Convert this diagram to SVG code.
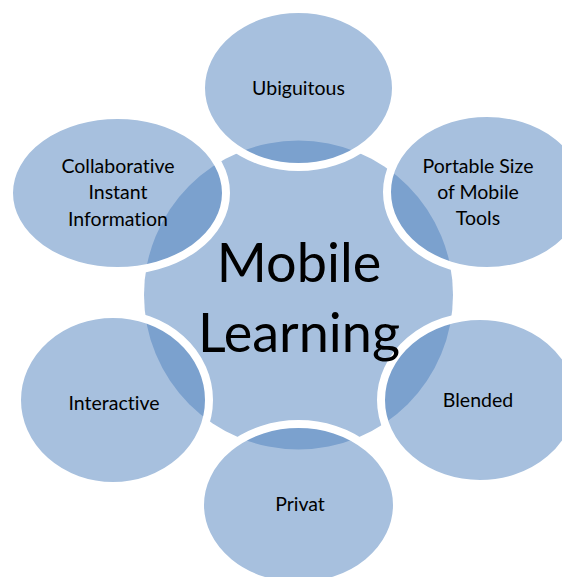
<svg xmlns="http://www.w3.org/2000/svg" width="562" height="577" viewBox="0 0 562 577">
  <style>
    .hub { fill: #A7C0DE; }
    .sat { fill: #4F81BD; fill-opacity: 0.5; stroke: #FFFFFF; stroke-width: 8; }
    text { font-family: Lato, "Open Sans", sans-serif; fill: #000000; text-anchor: middle;
           font-variant-ligatures: none; font-feature-settings: "liga" 0, "dlig" 0; }
    .lbl { font-size: 19.5px; }
    .big { font-size: 54px; }
  </style>
  <rect width="562" height="577" fill="#FFFFFF"/>

  <!-- central hub -->
  <g id="hub">
    <circle class="hub" cx="298.5" cy="295" r="154.5"/>
  </g>

  <!-- satellites -->
  <g id="ubiquitous">
    <ellipse class="sat" cx="298.5" cy="88" rx="97.5" ry="79"/>
    <text class="lbl" x="298.5" y="95">Ubiguitous</text>
  </g>
  <g id="portable">
    <ellipse class="sat" cx="487" cy="192" rx="100" ry="79"/>
    <text class="lbl" x="478" y="173">Portable Size</text>
    <text class="lbl" x="478" y="199">of Mobile</text>
    <text class="lbl" x="478" y="225">Tools</text>
  </g>
  <g id="blended">
    <ellipse class="sat" cx="480" cy="400" rx="99" ry="84"/>
    <text class="lbl" x="478" y="407">Blended</text>
  </g>
  <g id="privat">
    <ellipse class="sat" cx="298.5" cy="505" rx="98.5" ry="81"/>
    <text class="lbl" x="300" y="511">Privat</text>
  </g>
  <g id="interactive">
    <ellipse class="sat" cx="113" cy="400" rx="96" ry="86"/>
    <text class="lbl" x="114" y="410">Interactive</text>
  </g>
  <g id="collaborative">
    <ellipse class="sat" cx="117.5" cy="193" rx="108.5" ry="78"/>
    <text class="lbl" x="118" y="173">Collaborative</text>
    <text class="lbl" x="118" y="199">Instant</text>
    <text class="lbl" x="118" y="226">Information</text>
  </g>

  <!-- hub title, drawn above the satellites -->
  <g id="hub-label">
    <text class="big" x="299" y="282">Mobile</text>
    <text class="big" x="299" y="352">Learning</text>
  </g>

  <g id="connectors"/>
</svg>
